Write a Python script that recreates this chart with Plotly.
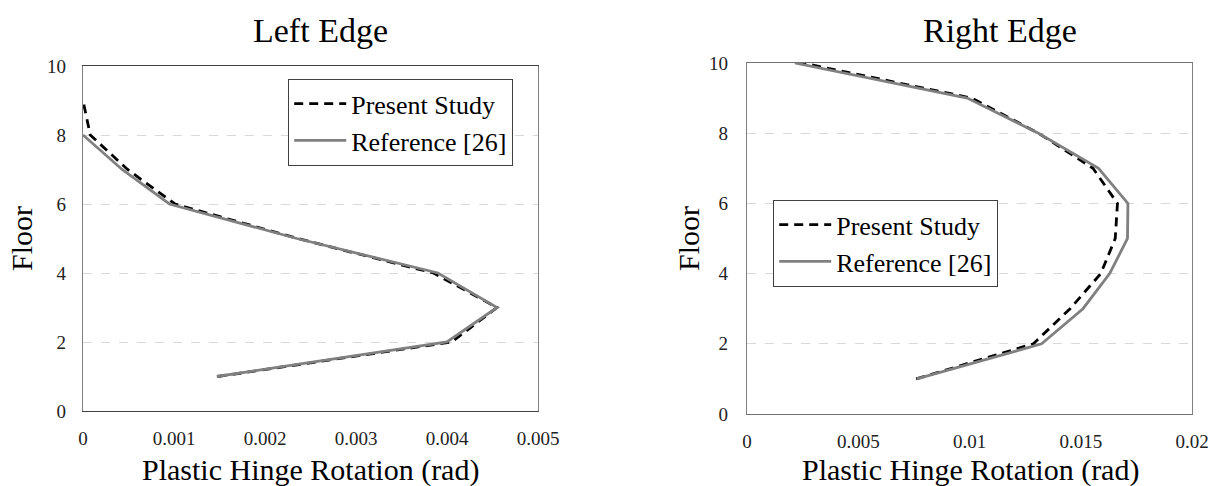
import plotly.graph_objects as go

# ---------------- data ----------------
left_present_floor = [1, 2, 3, 4, 5, 6, 7, 8, 9]
left_present_rot = [0.00148, 0.00405, 0.00455, 0.00385, 0.00236, 0.00101, 0.00049, 0.00008, 0.0]
left_ref_floor = [1, 2, 3, 4, 5, 6, 7, 8]
left_ref_rot = [0.00147, 0.00400, 0.00455, 0.00390, 0.00235, 0.00095, 0.00043, 0.0]

right_present_floor = [1, 2, 3, 4, 5, 6, 7, 8, 9, 10]
right_present_rot = [0.00760, 0.01287, 0.01452, 0.01590, 0.01655, 0.01665, 0.01555, 0.01310, 0.01010, 0.00250]
right_ref_floor = [1, 2, 3, 4, 5, 6, 7, 8, 9, 10]
right_ref_rot = [0.00763, 0.01324, 0.01510, 0.01630, 0.01710, 0.01712, 0.01580, 0.01310, 0.00990, 0.00215]

left_xticks = [0, 0.001, 0.002, 0.003, 0.004, 0.005]
left_xticklabels = ["0", "0.001", "0.002", "0.003", "0.004", "0.005"]
right_xticks = [0, 0.005, 0.01, 0.015, 0.02]
right_xticklabels = ["0", "0.005", "0.01", "0.015", "0.02"]
yticks = [0, 2, 4, 6, 8, 10]
yticklabels = ["0", "2", "4", "6", "8", "10"]

series_names = ["Present Study", "Reference [26]"]
panel_titles = ["Left Edge", "Right Edge"]
x_title = "Plastic Hinge Rotation (rad)"
y_title = "Floor"

# ---------------- styling ----------------
W, H = 1210, 486
FONT = "Liberation Serif"
BLACK_DASH = dict(color="black", width=2.8, dash="9px,6px")
GRAY = dict(color="#808080", width=2.8)


def px_x(p):
    return p / W


def px_y(p):
    return 1 - p / H


fig = go.Figure()

fig.add_trace(go.Scatter(x=left_present_rot, y=left_present_floor, mode="lines",
                         name=series_names[0], line=BLACK_DASH, xaxis="x", yaxis="y",
                         legend="legend"))
fig.add_trace(go.Scatter(x=left_ref_rot, y=left_ref_floor, mode="lines",
                         name=series_names[1], line=GRAY, xaxis="x", yaxis="y",
                         legend="legend"))
fig.add_trace(go.Scatter(x=right_present_rot, y=right_present_floor, mode="lines",
                         name=series_names[0], line=BLACK_DASH, xaxis="x2", yaxis="y2",
                         legend="legend2"))
fig.add_trace(go.Scatter(x=right_ref_rot, y=right_ref_floor, mode="lines",
                         name=series_names[1], line=GRAY, xaxis="x2", yaxis="y2",
                         legend="legend2"))

tickfont = dict(family=FONT, size=19, color="#222222")
common_x = dict(showgrid=False, zeroline=False, showline=True, mirror=True,
                ticks="", tickfont=tickfont, ticklabelstandoff=10, automargin=False)
common_y = dict(showgrid=True, gridcolor="#d9d9d9", griddash="dash", gridwidth=1,
                zeroline=False, showline=True, mirror=True, ticks="", automargin=False,
                tickfont=tickfont, range=[0, 10], tickvals=yticks, ticktext=yticklabels)

lx0, lx1, ly0, ly1 = 83, 538, 66, 411
rx0, rx1, ry0, ry1 = 747, 1192, 63, 414

legend_common = dict(xanchor="left", yanchor="top", bgcolor="white",
                     bordercolor="#404040", borderwidth=1.2,
                     font=dict(family=FONT, size=26, color="black"),
                     tracegroupgap=0, itemwidth=52)

fig.update_layout(
    width=W, height=H,
    margin=dict(l=0, r=0, t=0, b=0, autoexpand=False),
    paper_bgcolor="white", plot_bgcolor="white",
    showlegend=True,
    xaxis=dict(domain=[px_x(lx0), px_x(lx1)], anchor="y", range=[0, 0.005],
               tickvals=left_xticks, ticktext=left_xticklabels, linecolor="#404040",
               linewidth=1.3, **common_x),
    yaxis=dict(domain=[px_y(ly1), px_y(ly0)], anchor="x", linecolor="#808080",
               linewidth=1.3, ticklabelstandoff=12, **common_y),
    xaxis2=dict(domain=[px_x(rx0), px_x(rx1)], anchor="y2", range=[0, 0.02],
                tickvals=right_xticks, ticktext=right_xticklabels, linecolor="#707070",
                linewidth=1.3, **common_x),
    yaxis2=dict(domain=[px_y(ry1), px_y(ry0)], anchor="x2", linecolor="#808080",
                linewidth=1.3, ticklabelstandoff=14, **common_y),
    legend=dict(x=px_x(288), y=px_y(79), **legend_common),
    legend2=dict(x=px_x(773), y=px_y(200), **legend_common),
)

annos = [
    dict(text=panel_titles[0], x=px_x(320), y=px_y(30), size=34, angle=0),
    dict(text=panel_titles[1], x=px_x(1000), y=px_y(30), size=34, angle=0),
    dict(text=x_title, x=px_x(310), y=px_y(470), size=30, angle=0),
    dict(text=x_title, x=px_x(970), y=px_y(470), size=30, angle=0),
    dict(text=y_title, x=px_x(21), y=px_y(239), size=30, angle=-90),
    dict(text=y_title, x=px_x(688), y=px_y(239), size=30, angle=-90),
]
for a in annos:
    fig.add_annotation(text=a["text"], x=a["x"], y=a["y"], xref="paper", yref="paper",
                       xanchor="center", yanchor="middle", showarrow=False,
                       textangle=a["angle"],
                       font=dict(family=FONT, size=a["size"], color="black"))

fig.write_html(
    "out.html",
    config={"displayModeBar": False},
    post_script="document.body.style.margin='0';document.body.style.overflow='hidden';",
)
